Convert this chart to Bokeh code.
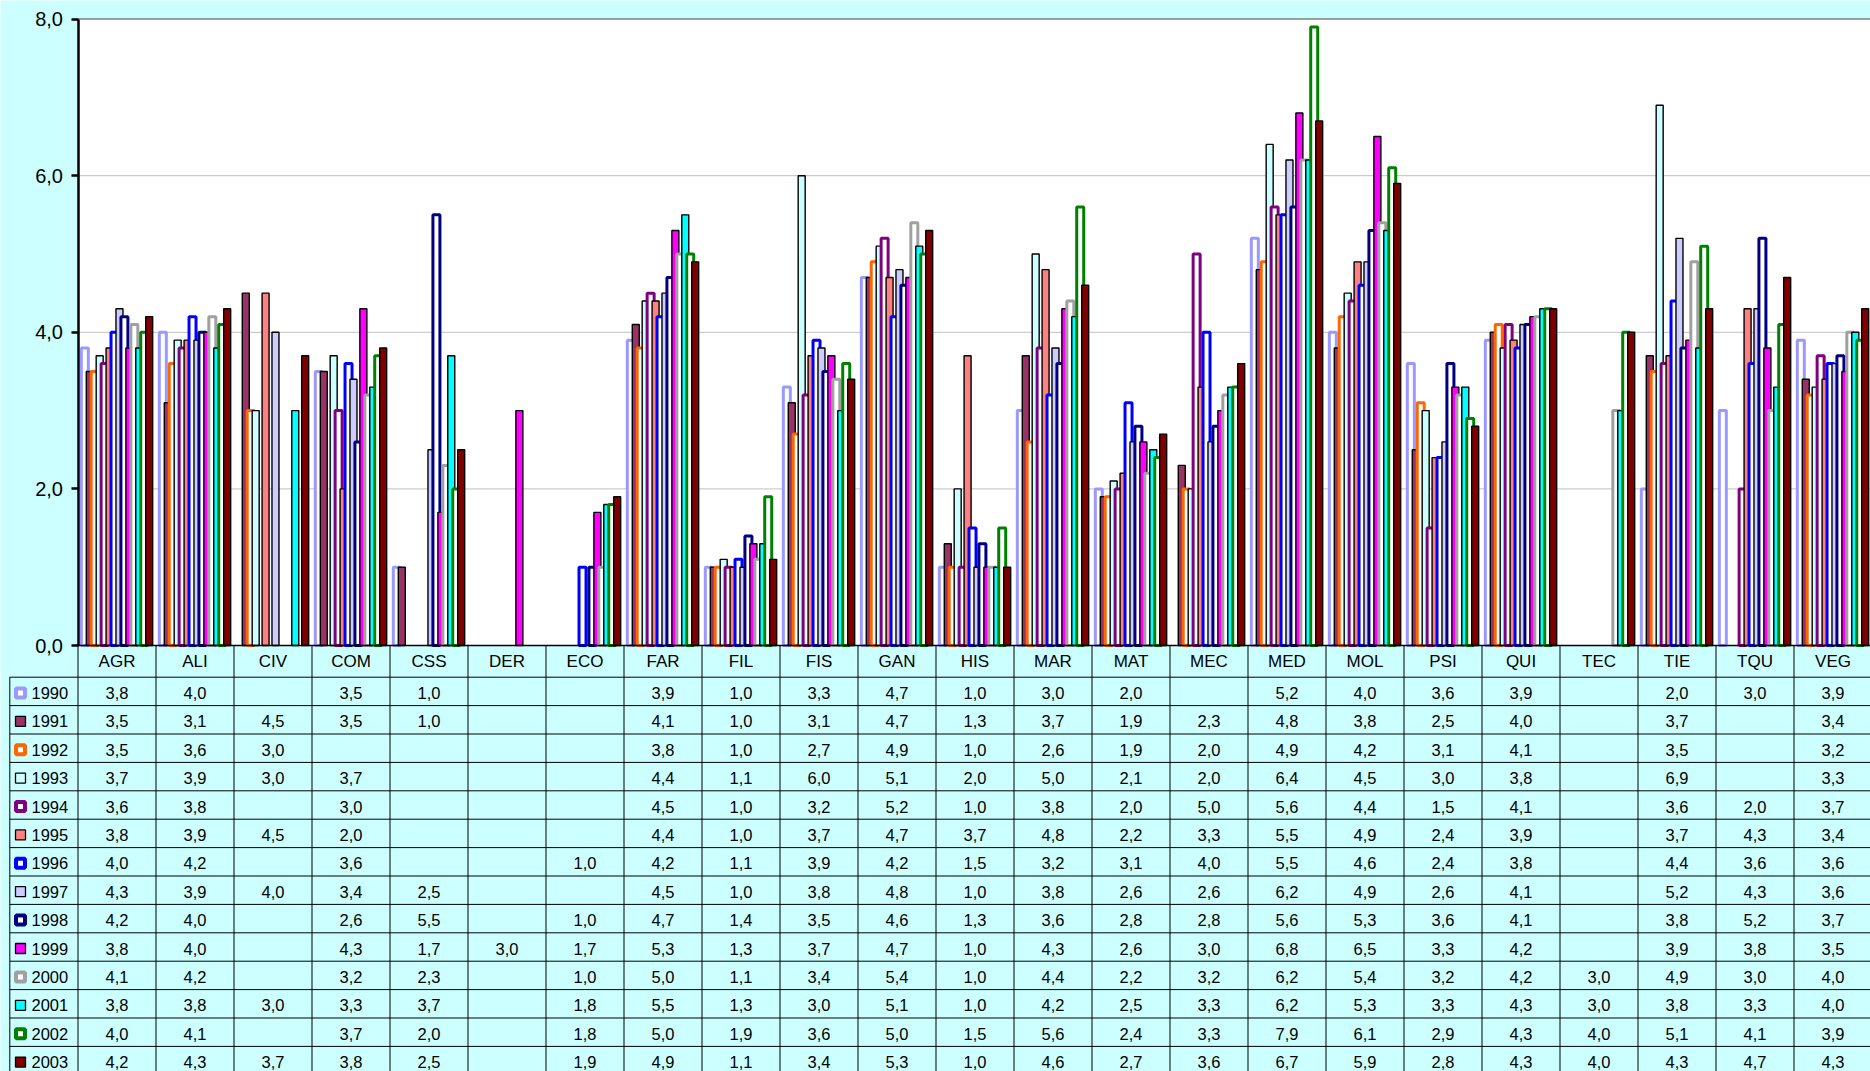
from bokeh.plotting import figure
from bokeh.models import Range1d, LinearAxis, FixedTicker
from bokeh.core.properties import value
from bokeh.embed import file_html
from bokeh.resources import INLINE

# ---------------- data ----------------
categories = ["AGR", "ALI", "CIV", "COM", "CSS", "DER", "ECO", "FAR", "FIL", "FIS", "GAN", "HIS",
              "MAR", "MAT", "MEC", "MED", "MOL", "PSI", "QUI", "TEC", "TIE", "TQU", "VEG"]
years = ["1990", "1991", "1992", "1993", "1994", "1995", "1996", "1997", "1998", "1999",
         "2000", "2001", "2002", "2003"]
N = None
v1990 = [3.8, 4.0, N, 3.5, 1.0, N, N, 3.9, 1.0, 3.3, 4.7, 1.0, 3.0, 2.0, N, 5.2, 4.0, 3.6, 3.9, N, 2.0, 3.0, 3.9]
v1991 = [3.5, 3.1, 4.5, 3.5, 1.0, N, N, 4.1, 1.0, 3.1, 4.7, 1.3, 3.7, 1.9, 2.3, 4.8, 3.8, 2.5, 4.0, N, 3.7, N, 3.4]
v1992 = [3.5, 3.6, 3.0, N, N, N, N, 3.8, 1.0, 2.7, 4.9, 1.0, 2.6, 1.9, 2.0, 4.9, 4.2, 3.1, 4.1, N, 3.5, N, 3.2]
v1993 = [3.7, 3.9, 3.0, 3.7, N, N, N, 4.4, 1.1, 6.0, 5.1, 2.0, 5.0, 2.1, 2.0, 6.4, 4.5, 3.0, 3.8, N, 6.9, N, 3.3]
v1994 = [3.6, 3.8, N, 3.0, N, N, N, 4.5, 1.0, 3.2, 5.2, 1.0, 3.8, 2.0, 5.0, 5.6, 4.4, 1.5, 4.1, N, 3.6, 2.0, 3.7]
v1995 = [3.8, 3.9, 4.5, 2.0, N, N, N, 4.4, 1.0, 3.7, 4.7, 3.7, 4.8, 2.2, 3.3, 5.5, 4.9, 2.4, 3.9, N, 3.7, 4.3, 3.4]
v1996 = [4.0, 4.2, N, 3.6, N, N, 1.0, 4.2, 1.1, 3.9, 4.2, 1.5, 3.2, 3.1, 4.0, 5.5, 4.6, 2.4, 3.8, N, 4.4, 3.6, 3.6]
v1997 = [4.3, 3.9, 4.0, 3.4, 2.5, N, N, 4.5, 1.0, 3.8, 4.8, 1.0, 3.8, 2.6, 2.6, 6.2, 4.9, 2.6, 4.1, N, 5.2, 4.3, 3.6]
v1998 = [4.2, 4.0, N, 2.6, 5.5, N, 1.0, 4.7, 1.4, 3.5, 4.6, 1.3, 3.6, 2.8, 2.8, 5.6, 5.3, 3.6, 4.1, N, 3.8, 5.2, 3.7]
v1999 = [3.8, 4.0, N, 4.3, 1.7, 3.0, 1.7, 5.3, 1.3, 3.7, 4.7, 1.0, 4.3, 2.6, 3.0, 6.8, 6.5, 3.3, 4.2, N, 3.9, 3.8, 3.5]
v2000 = [4.1, 4.2, N, 3.2, 2.3, N, 1.0, 5.0, 1.1, 3.4, 5.4, 1.0, 4.4, 2.2, 3.2, 6.2, 5.4, 3.2, 4.2, 3.0, 4.9, 3.0, 4.0]
v2001 = [3.8, 3.8, 3.0, 3.3, 3.7, N, 1.8, 5.5, 1.3, 3.0, 5.1, 1.0, 4.2, 2.5, 3.3, 6.2, 5.3, 3.3, 4.3, 3.0, 3.8, 3.3, 4.0]
v2002 = [4.0, 4.1, N, 3.7, 2.0, N, 1.8, 5.0, 1.9, 3.6, 5.0, 1.5, 5.6, 2.4, 3.3, 7.9, 6.1, 2.9, 4.3, 4.0, 5.1, 4.1, 3.9]
v2003 = [4.2, 4.3, 3.7, 3.8, 2.5, N, 1.9, 4.9, 1.1, 3.4, 5.3, 1.0, 4.6, 2.7, 3.6, 6.7, 5.9, 2.8, 4.3, 4.0, 4.3, 4.7, 4.3]
series = [v1990, v1991, v1992, v1993, v1994, v1995, v1996, v1997, v1998, v1999, v2000, v2001, v2002, v2003]

y_ticks = [0, 2, 4, 6, 8]
y_tick_labels = ["0,0", "2,0", "4,0", "6,0", "8,0"]

# ---------------- styles ----------------
fill_colors = ["white", "#993366", "white", "#CCFFFF", "white", "#FF8080", "white",
               "#CCCCFF", "white", "#FF00FF", "white", "#00FFFF", "white", "#800000"]
line_colors = ["#9999FF", "black", "#FF6600", "black", "#800080", "black", "#0000FF",
               "black", "#000080", "black", "#A0A0A0", "black", "#008000", "black"]
hollow = [True, False, True, False, True, False, True, False, True, False, True, False, True, False]

BG = "#CCFFFF"
W, H = 1870, 1071
PX_Y = 78.3          # pixels per y unit
ZERO_PX = 645        # pixel row of y=0 from top of figure
CW = 78.0            # pixels per category
X0_PX = 77.5         # pixel column of category 0 left edge
STEP = 4.95 / CW     # offset between series within a cluster
BAR_W = 7.0 / CW

x_start, x_end = -X0_PX / CW, (W - X0_PX) / CW
y_start, y_end = -(H - ZERO_PX) / PX_Y, ZERO_PX / PX_Y

p = figure(width=W, height=H, x_range=Range1d(x_start, x_end), y_range=Range1d(y_start, y_end),
           output_backend="svg", toolbar_location=None, min_border=0,
           x_axis_type=None, y_axis_type=None,
           background_fill_color=BG, border_fill_color=BG, outline_line_color=None)

ncat = len(categories)
y_top = max(y_ticks)

# plot area
p.quad(left=[0], right=[x_end + 1], bottom=[0], top=[y_top], fill_color="white", line_color=None)
grid_y = [t for t in y_ticks if 0 < t < y_top]
p.segment(x0=[0] * len(grid_y), x1=[x_end + 1] * len(grid_y), y0=grid_y, y1=grid_y,
          line_color="#C0C0C0", line_width=1)
p.segment(x0=[0], x1=[x_end + 1], y0=[y_top], y1=[y_top], line_color="#808080", line_width=1.5)

# bars
nser = len(series)
for i, s in enumerate(series):
    xs = [c + 0.5 + (i - (nser - 1) / 2) * STEP for c, v in enumerate(s) if v is not None]
    tops = [v for v in s if v is not None]
    p.vbar(x=xs, top=tops, bottom=0, width=BAR_W, fill_color=fill_colors[i],
           line_color=line_colors[i], line_width=3.0 if hollow[i] else 1.4)

# ---------------- data table ----------------
HEAD_H = 31.7 / PX_Y
ROW_H = 28.4 / PX_Y
LEG_LEFT = (9.3 - X0_PX) / CW
table_bottom = y_start - 1

# zero line / table top
p.segment(x0=[0], x1=[x_end + 1], y0=[0], y1=[0], line_color="black", line_width=1.5)
# vertical separators
vx = list(range(ncat + 1))
p.segment(x0=vx, x1=vx, y0=[0] * len(vx), y1=[table_bottom] * len(vx), line_color="black", line_width=1)
p.segment(x0=[LEG_LEFT], x1=[LEG_LEFT], y0=[-HEAD_H], y1=[table_bottom], line_color="black", line_width=1)
# horizontal separators
hy = [-HEAD_H - k * ROW_H for k in range(len(years) + 1)]
p.segment(x0=[LEG_LEFT] * len(hy), x1=[x_end + 1] * len(hy), y0=hy, y1=hy, line_color="black", line_width=1)

# header labels
p.text(x=[c + 0.5 for c in range(ncat)], y=[-HEAD_H / 2] * ncat, text=categories,
       text_font=value("Liberation Sans"), text_font_size="17px", text_align="center",
       text_baseline="middle", text_color="black")

# values
tx, ty, tt = [], [], []
for i, s in enumerate(series):
    yc = -HEAD_H - (i + 0.5) * ROW_H - 1.5 / PX_Y
    for c, v in enumerate(s):
        if v is not None:
            tx.append(c + 0.5)
            ty.append(yc)
            tt.append(f"{v:.1f}".replace(".", ","))
p.text(x=tx, y=ty, text=tt, text_font=value("Liberation Sans"), text_font_size="16.5px",
       text_align="center", text_baseline="middle", text_color="black")

# legend keys in the table
row_c = [-HEAD_H - (i + 0.5) * ROW_H - 1.5 / PX_Y for i in range(nser)]
icon_x = (20 - X0_PX) / CW
p.scatter(x=[icon_x] * nser, y=row_c, marker="square",
          size=[9 if h else 10 for h in hollow], fill_color=fill_colors, line_color=line_colors,
          line_width=[4 if h else 1.3 for h in hollow])
p.text(x=[(31 - X0_PX) / CW] * nser, y=row_c, text=years, text_font=value("Liberation Sans"),
       text_font_size="16.5px", text_align="left", text_baseline="middle", text_color="black")

# y axis
yaxis = LinearAxis(fixed_location=0, bounds=(0, y_top), ticker=FixedTicker(ticks=y_ticks),
                   major_label_overrides={t: l for t, l in zip(y_ticks, y_tick_labels)},
                   axis_line_color="black", axis_line_width=2.5,
                   major_tick_line_color="black", major_tick_line_width=2.5,
                   major_tick_out=7, major_tick_in=0, minor_tick_line_color=None,
                   major_label_standoff=8, major_label_text_font="Liberation Sans",
                   major_label_text_font_size="20px", major_label_text_color="black")
p.add_layout(yaxis, "left")

open("out.html", "w").write(file_html(p, INLINE))
